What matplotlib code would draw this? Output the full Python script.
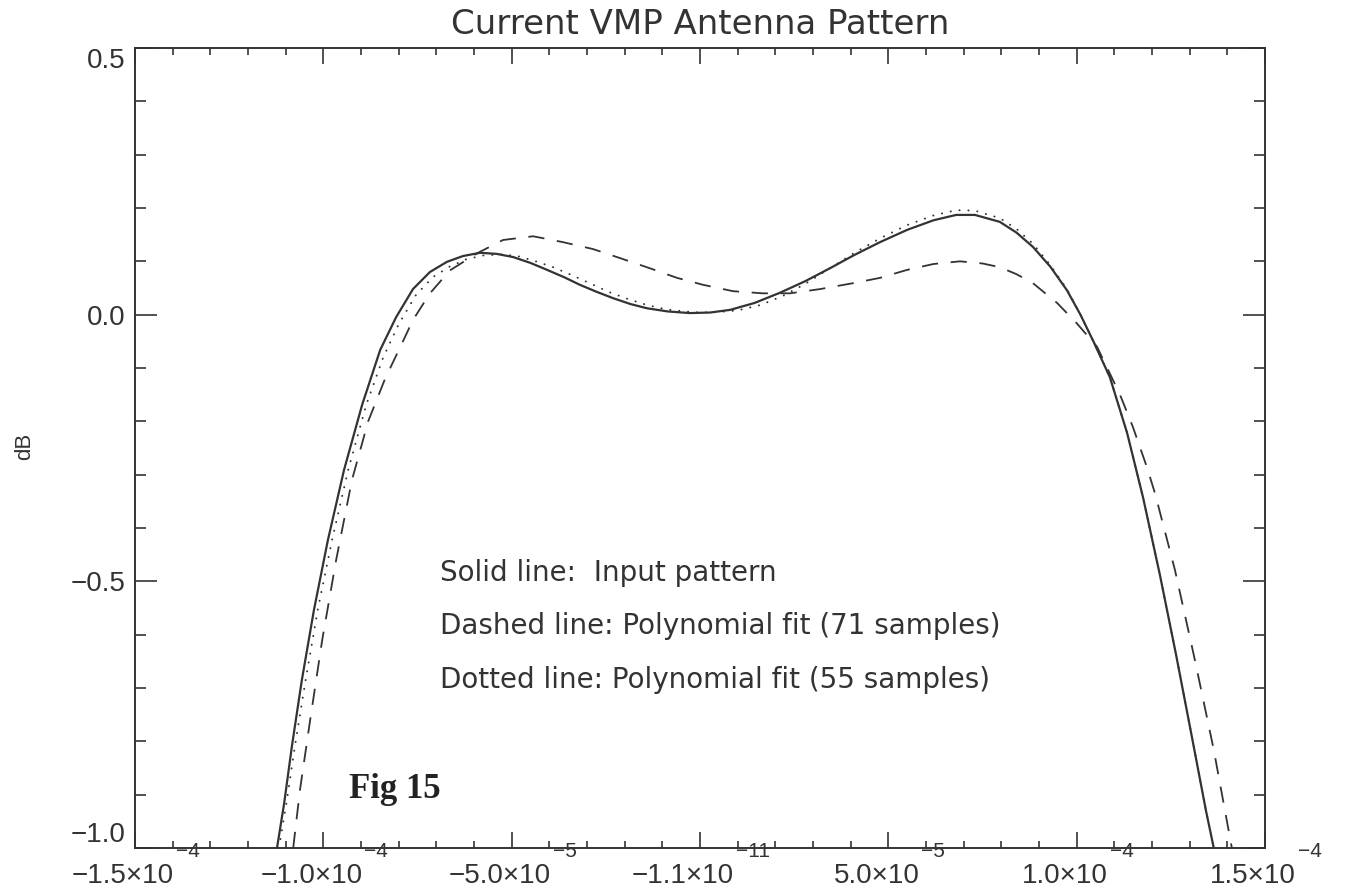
import numpy as np
import matplotlib.pyplot as plt
from matplotlib.ticker import MultipleLocator

# x in units of 1e-4, y in dB
solid_x = [-1.123, -1.104, -1.083, -1.057, -1.025, -0.988, -0.945, -0.897, -0.849, -0.807,
           -0.762, -0.717, -0.672, -0.629, -0.584, -0.54, -0.496, -0.45, -0.406, -0.36,
           -0.319, -0.275, -0.231, -0.185, -0.141, -0.085, -0.027, 0.027, 0.080, 0.145,
           0.212, 0.28, 0.345, 0.41, 0.478, 0.55, 0.62, 0.68, 0.73, 0.796,
           0.84, 0.884, 0.93, 0.974, 1.01, 1.043, 1.088, 1.134, 1.176, 1.221,
           1.264, 1.306, 1.343, 1.364]
solid_y = [-1.0, -0.916, -0.807, -0.685, -0.554, -0.423, -0.291, -0.169, -0.066, -0.005,
           0.048, 0.080, 0.099, 0.110, 0.116, 0.114, 0.108, 0.097, 0.084, 0.070,
           0.056, 0.043, 0.031, 0.020, 0.012, 0.006, 0.003, 0.004, 0.009, 0.022,
           0.041, 0.063, 0.087, 0.112, 0.136, 0.159, 0.177, 0.187, 0.187, 0.174,
           0.154, 0.127, 0.090, 0.046, 0.0, -0.048, -0.117, -0.222, -0.342, -0.488,
           -0.638, -0.792, -0.929, -1.0]

dash_x = [-1.080, -1.062, -1.035, -1.003, -0.966, -0.924, -0.881, -0.836, -0.796, -0.762,
          -0.717, -0.664, -0.592, -0.523, -0.443, -0.364, -0.284, -0.212, -0.133, -0.061,
          0.008, 0.088, 0.167, 0.239, 0.319, 0.406, 0.478, 0.55, 0.62, 0.69,
          0.75, 0.796, 0.84, 0.884, 0.948, 1.0, 1.054, 1.115, 1.149, 1.186,
          1.208, 1.261, 1.314, 1.364, 1.412]
dash_y = [-1.0, -0.891, -0.760, -0.610, -0.460, -0.310, -0.200, -0.120, -0.061, -0.010,
          0.040, 0.083, 0.115, 0.140, 0.147, 0.136, 0.123, 0.106, 0.087, 0.069,
          0.056, 0.044, 0.040, 0.040, 0.048, 0.059, 0.069, 0.084, 0.095, 0.100,
          0.096, 0.089, 0.076, 0.059, 0.022, -0.016, -0.060, -0.150, -0.210, -0.285,
          -0.335, -0.479, -0.648, -0.816, -1.0]

dot_x = [-1.118, -1.098, -1.075, -1.047, -1.015, -0.977, -0.934, -0.886, -0.841, -0.80,
         -0.755, -0.71, -0.665, -0.62, -0.575, -0.53, -0.485, -0.44, -0.39, -0.34,
         -0.29, -0.24, -0.19, -0.14, -0.09, -0.04, 0.0, 0.05, 0.10, 0.16,
         0.22, 0.28, 0.345, 0.41, 0.478, 0.55, 0.62, 0.68, 0.73, 0.796,
         0.84, 0.884, 0.93, 0.974, 1.01, 1.043, 1.088, 1.134, 1.176, 1.221,
         1.264, 1.306, 1.343, 1.364]
dot_y = [-1.0, -0.916, -0.807, -0.685, -0.554, -0.423, -0.291, -0.169, -0.080, -0.018,
         0.036, 0.070, 0.090, 0.104, 0.111, 0.113, 0.110, 0.101, 0.089, 0.074,
         0.058, 0.042, 0.029, 0.018, 0.010, 0.006, 0.004, 0.005, 0.008, 0.018,
         0.035, 0.058, 0.087, 0.116, 0.143, 0.168, 0.186, 0.196, 0.195, 0.181,
         0.161, 0.133, 0.093, 0.048, 0.0, -0.048, -0.117, -0.222, -0.342, -0.488,
         -0.638, -0.792, -0.929, -1.0]

xtick_vals = [-1.5e-4, -1.0e-4, -5.0e-5, 0.0, 5.0e-5, 1.0e-4, 1.5e-4]
xtick_base = ['\u22121.5\u00d710', '\u22121.0\u00d710', '\u22125.0\u00d710', '\u22121.1\u00d710',
              '5.0\u00d710', '1.0\u00d710', '1.5\u00d710']
xtick_exp = ['\u22124', '\u22124', '\u22125', '\u221211', '\u22125', '\u22124', '\u22124']
ytick_vals = [-1.0, -0.5, 0.0, 0.5]
ytick_labels = ['\u22121.0', '\u22120.5', '0.0', '0.5']

notes = ['Solid line:  Input pattern',
         'Dashed line: Polynomial fit (71 samples)',
         'Dotted line: Polynomial fit (55 samples)']

plt.rcParams['font.family'] = 'DejaVu Sans'

ink = '#333333'
W, H = 1353, 894

fig = plt.figure(figsize=(W / 100, H / 100), dpi=100)
ax = fig.add_axes([135 / W, 46 / H, 1130 / W, 800 / H])

ax.plot(np.array(solid_x) * 1e-4, solid_y, color=ink, lw=1.6, ls='-')
ax.plot(np.array(dash_x) * 1e-4, dash_y, color=ink, lw=1.3, ls=(0, (9, 7)))
ax.plot(np.array(dot_x) * 1e-4, dot_y, color=ink, lw=1.4, ls=(0, (0.1, 4.5)),
        dash_capstyle='round')

ax.set_xlim(-1.5e-4, 1.5e-4)
ax.set_ylim(-1.0, 0.5)

ax.set_xticks(xtick_vals)
ax.set_yticks(ytick_vals)
ax.set_yticklabels(ytick_labels, family='Liberation Sans', fontsize=20)
ax.xaxis.set_minor_locator(MultipleLocator(1e-5))
ax.yaxis.set_minor_locator(MultipleLocator(0.1))

ax.tick_params(which='both', direction='in', top=True, right=True, color=ink,
               labelcolor=ink, width=1.2)
ax.tick_params(axis='x', which='both', labelbottom=False)
ax.tick_params(axis='x', which='major', length=11.5)
ax.tick_params(axis='x', which='minor', length=5)
ax.tick_params(axis='y', which='major', length=16, pad=7)
ax.tick_params(axis='y', which='minor', length=8)
for sp in ax.spines.values():
    sp.set_color(ink)
    sp.set_linewidth(1.4)

# end labels sit inside the axis range, like the original
ylabs = ax.get_yticklabels()
ylabs[0].set_va('bottom')
ylabs[-1].set_va('top')

# x tick labels: base and raised exponent, joined at one anchor point
fig.canvas.draw()
r = fig.canvas.get_renderer()
lab_kw = dict(family='Liberation Sans', color=ink, va='baseline',
              xycoords=('data', 'axes fraction'), textcoords='offset pixels')
for xv, b, e in zip(xtick_vals, xtick_base, xtick_exp):
    tmp_b = fig.text(0, 0, b, fontsize=20, family='Liberation Sans')
    tmp_e = fig.text(0, 0, e, fontsize=15, family='Liberation Sans')
    wb = tmp_b.get_window_extent(r).width
    we = tmp_e.get_window_extent(r).width
    tmp_b.remove()
    tmp_e.remove()
    d = (wb - we) / 2
    ax.annotate(b, xy=(xv, 0), xytext=(d, -35), ha='right', fontsize=20, **lab_kw)
    ax.annotate(e, xy=(xv, 0), xytext=(d + 2, -9), ha='left', fontsize=15, **lab_kw)

fig.text(700 / W, 1 - 25 / H, 'Current VMP Antenna Pattern', ha='center', va='center',
         fontsize=24.5, color=ink)
fig.text(25 / W, 1 - 446 / H, 'dB', rotation=90, ha='center', va='center',
         fontsize=16, family='Liberation Sans', color=ink)

for i, s in enumerate(notes):
    fig.text(440 / W, 1 - (573 + 53.5 * i) / H, s, ha='left', va='center',
             fontsize=20, color=ink)

fig.text(349 / W, 1 - 790 / H, 'Fig 15', ha='left', va='center', fontsize=25,
         fontweight='bold', family='Liberation Serif', color='#222222')

fig.savefig('out.png', dpi=100)
